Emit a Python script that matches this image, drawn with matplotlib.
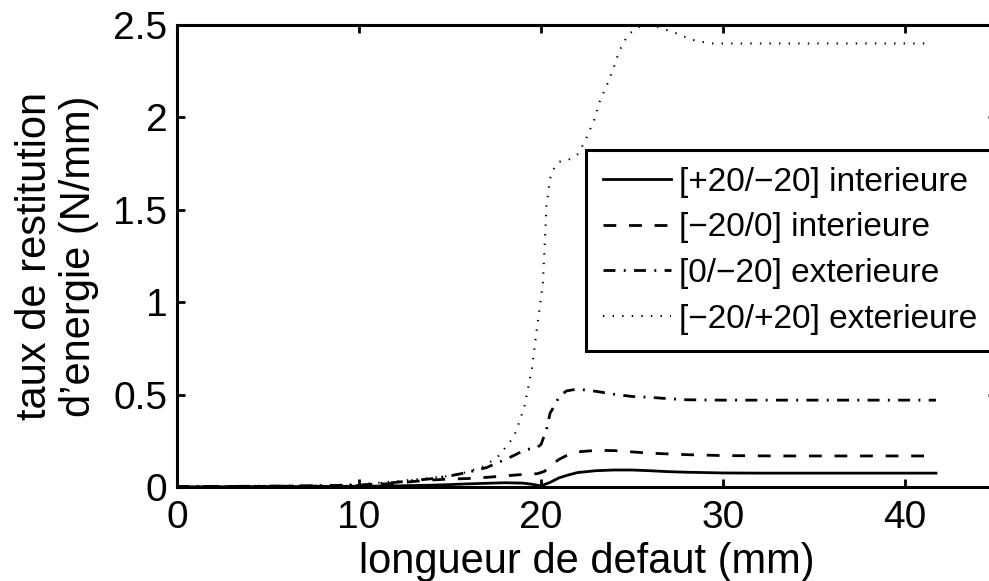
import matplotlib
matplotlib.use("Agg")
import matplotlib.pyplot as plt

plt.rcParams['font.family'] = ['Liberation Sans', 'DejaVu Sans']
plt.rcParams['lines.scale_dashes'] = False

# ---- data ----
labels = ["[+20/\u221220] interieure", "[\u221220/0] interieure",
          "[0/\u221220] exterieure", "[\u221220/+20] exterieure"]

x_a = [0, 2, 4, 6, 8, 10, 12, 14, 15, 16, 17, 18, 19, 19.5, 20, 20.5, 21, 21.5,
       22, 23, 24, 25, 26, 27, 28, 30, 32, 35, 38, 41.7]
y_a = [0.001, 0.001, 0.002, 0.002, 0.003, 0.004, 0.006, 0.010, 0.013, 0.017, 0.020,
       0.023, 0.021, 0.015, 0.006, 0.025, 0.050, 0.065, 0.078, 0.088, 0.092, 0.092,
       0.088, 0.083, 0.080, 0.076, 0.075, 0.075, 0.075, 0.075]

x_b = [0, 4, 8, 10, 12, 13, 14, 15, 16, 17, 18, 19, 19.8, 20.2, 20.5, 21, 21.5, 22,
       23, 24, 25, 26, 28, 30, 33, 36, 41.7]
y_b = [0.002, 0.003, 0.005, 0.008, 0.020, 0.030, 0.038, 0.043, 0.046, 0.052, 0.060,
       0.068, 0.072, 0.085, 0.115, 0.150, 0.175, 0.190, 0.198, 0.197, 0.190, 0.183,
       0.175, 0.170, 0.168, 0.168, 0.168]

x_c = [0, 4, 8, 10, 12, 13, 14, 15, 16, 17, 17.6, 18.5, 19.1, 19.8, 20.0, 20.3, 20.5,
       20.8, 21.0, 21.4, 22, 23, 24, 25, 26, 27, 28, 30, 33, 36, 41.7]
y_c = [0.002, 0.004, 0.007, 0.010, 0.025, 0.035, 0.045, 0.060, 0.080, 0.105, 0.130,
       0.170, 0.200, 0.215, 0.230, 0.310, 0.400, 0.450, 0.490, 0.520, 0.530, 0.518,
       0.502, 0.490, 0.485, 0.478, 0.472, 0.470, 0.470, 0.470, 0.470]

x_d = [0, 5, 8, 10, 12, 13.5, 15, 15.9, 16.8, 17.6, 18.1, 18.5, 18.8, 19.1, 19.3, 19.5,
       19.7, 19.9, 20.1, 20.2, 20.3, 20.5, 20.7, 21.0, 21.5, 22.0, 22.3, 22.5, 22.9,
       23.2, 23.6, 24.0, 24.3, 24.8, 25.4, 25.8, 26.4, 27.3, 28.3, 29.3, 30, 33, 36, 41.5]
y_d = [0.003, 0.006, 0.010, 0.015, 0.030, 0.045, 0.060, 0.080, 0.110, 0.160, 0.220,
       0.270, 0.350, 0.440, 0.540, 0.640, 0.800, 0.950, 1.100, 1.300, 1.520, 1.670,
       1.720, 1.760, 1.770, 1.800, 1.850, 1.890, 1.980, 2.080, 2.170, 2.270, 2.360,
       2.450, 2.490, 2.500, 2.490, 2.460, 2.420, 2.400, 2.400, 2.400, 2.400, 2.400]

xticks = [0, 10, 20, 30, 40]
yticks = [0, 0.5, 1, 1.5, 2, 2.5]
ytick_labels = ["0", "0.5", "1", "1.5", "2", "2.5"]

# ---- figure ----
W, H = 989, 581
fig = plt.figure(figsize=(W / 100, H / 100), dpi=100)
L, R, T, B = 177, 996, 25, 487
ax = fig.add_axes([L / W, 1 - B / H, (R - L) / W, (B - T) / H])

lw = 2.0
ax.plot(x_a, y_a, color='black', lw=lw, linestyle='-', label=labels[0])
ax.plot(x_b, y_b, color='black', lw=lw, linestyle=(0, (9.2, 9.2)), label=labels[1])
ax.plot(x_c, y_c, color='black', lw=lw, linestyle=(0, (8.6, 6.0, 1.4, 6.0)), label=labels[2])
ax.plot(x_d, y_d, color='black', lw=1.5, linestyle=(0, (1.0, 5.9)), label=labels[3])

ax.set_xlim(0, 45)
ax.set_ylim(0, 2.5)
ax.set_xticks(xticks)
ax.set_xticklabels([str(v) for v in xticks])
ax.set_yticks(yticks)
ax.set_yticklabels(ytick_labels)

for s in ax.spines.values():
    s.set_linewidth(2.2)
ax.tick_params(direction='in', length=6, width=2.0, labelsize=28,
               top=True, right=True)
ax.tick_params(axis='x', pad=9)
ax.tick_params(axis='y', pad=7)

ax.set_xlabel("longueur de defaut (mm)", fontsize=30, labelpad=5)
ax.set_ylabel("taux de restitution\nd\u2019energie (N/mm)", fontsize=30,
              labelpad=10, linespacing=1.15)

leg = ax.legend(loc='upper left', bbox_to_anchor=(586 / W, 1 - 150 / H),
                bbox_transform=fig.transFigure, borderaxespad=0,
                fontsize=24, frameon=True, fancybox=False, framealpha=1,
                edgecolor='black', handlelength=2.05, handletextpad=0.25,
                borderpad=0.5, labelspacing=0.44)
leg.get_frame().set_linewidth(2.2)

fig.savefig("out.png", dpi=100)
